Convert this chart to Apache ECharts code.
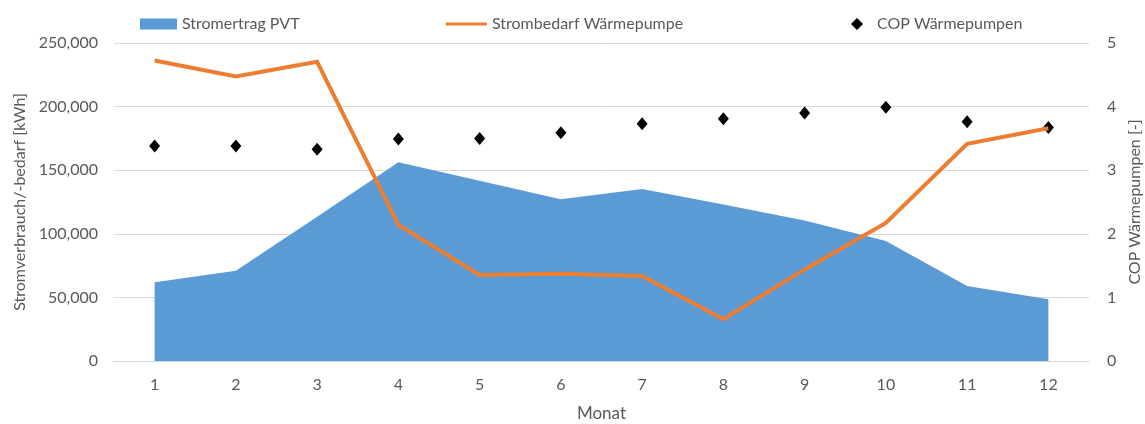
<!DOCTYPE html>
<html>
<head>
<meta charset="utf-8">
<script src="https://cdn.jsdelivr.net/npm/echarts@6/dist/echarts.min.js"></script>
<style>
  html, body { margin: 0; padding: 0; background: #fff; }
  #chart { width: 1145px; height: 424px; }
</style>
</head>
<body>
<div id="chart"></div>
<script>
var months = ['1', '2', '3', '4', '5', '6', '7', '8', '9', '10', '11', '12'];
var stromertragPVT = [61900, 71000, 113500, 156300, 141800, 127200, 135300, 123000, 110400, 94400, 59000, 48500];
var strombedarfWP = [236300, 223700, 235200, 107000, 67700, 68500, 66900, 32800, 72000, 108500, 170700, 183000];
var copWP = [3.38, 3.38, 3.33, 3.49, 3.50, 3.59, 3.73, 3.81, 3.90, 3.99, 3.76, 3.67];

var fontFamily = 'Lato, "Open Sans", sans-serif';
var textColor = '#595959';

function renderChart(chartID) {
  var chartDom = document.getElementById(chartID);
  var myChart = echarts.init(chartDom);
  var legendText = { color: textColor, fontSize: 16, fontFamily: fontFamily };

  var option = {
    animation: false,
    textStyle: { fontFamily: fontFamily },
    grid: { left: 114, right: 56, top: 43, bottom: 63, outerBoundsMode: 'none', containLabel: false },
    legend: [
      {
        left: 135, top: 11,
        itemWidth: 37, itemHeight: 11, itemGap: 4,
        textStyle: legendText,
        data: [{ name: 'Stromertrag PVT', icon: 'rect' }]
      },
      {
        left: 441, top: 11,
        itemWidth: 41, itemHeight: 11,
        textStyle: legendText,
        data: [{ name: 'Strombedarf Wärmepumpe', icon: 'path://M0,4 L40,4 L40,7 L0,7 Z' }]
      },
      {
        left: 846, top: 11,
        itemWidth: 12, itemHeight: 12, itemGap: 4,
        textStyle: Object.assign({ padding: [0, 0, 0, 9] }, legendText),
        data: [{ name: 'COP Wärmepumpen', icon: 'diamond' }]
      }
    ],
    xAxis: {
      type: 'category',
      data: months,
      boundaryGap: true,
      name: 'Monat',
      nameLocation: 'middle',
      nameGap: 44,
      nameTextStyle: { color: textColor, fontSize: 17 },
      axisLine: { lineStyle: { color: '#d9d9d9' } },
      axisTick: { show: false },
      axisLabel: { color: textColor, fontSize: 16, margin: 16 }
    },
    yAxis: [
      {
        type: 'value',
        min: 0, max: 250000, interval: 50000,
        name: 'Stromverbrauch/-bedarf [kWh]',
        nameLocation: 'middle',
        nameGap: 86,
        nameTextStyle: { color: textColor, fontSize: 16 },
        axisLabel: {
          color: textColor, fontSize: 16, margin: 16,
          formatter: function (v) { return v.toLocaleString('en-US'); }
        },
        splitLine: { lineStyle: { color: '#d9d9d9' } }
      },
      {
        type: 'value',
        min: 0, max: 5, interval: 1,
        name: 'COP Wärmepumpen [-]',
        nameLocation: 'middle',
        nameGap: 38,
        nameTextStyle: { color: textColor, fontSize: 16 },
        axisLabel: { color: textColor, fontSize: 16, margin: 18 },
        splitLine: { show: false }
      }
    ],
    series: [
      {
        name: 'Stromertrag PVT',
        type: 'line',
        data: stromertragPVT,
        symbol: 'none',
        lineStyle: { width: 0 },
        itemStyle: { color: '#5b9bd5' },
        areaStyle: { color: '#5b9bd5', opacity: 1 }
      },
      {
        name: 'Strombedarf Wärmepumpe',
        type: 'line',
        data: strombedarfWP,
        symbol: 'none',
        lineStyle: { color: '#ed7d31', width: 4, join: 'miter' },
        itemStyle: { color: '#ed7d31' }
      },
      {
        name: 'COP Wärmepumpen',
        type: 'scatter',
        yAxisIndex: 1,
        data: copWP,
        symbol: 'diamond',
        symbolSize: [11, 13],
        itemStyle: { color: '#000', opacity: 1 }
      }
    ]
  };

  option && myChart.setOption(option);
}

renderChart('chart');
</script>
</body>
</html>
